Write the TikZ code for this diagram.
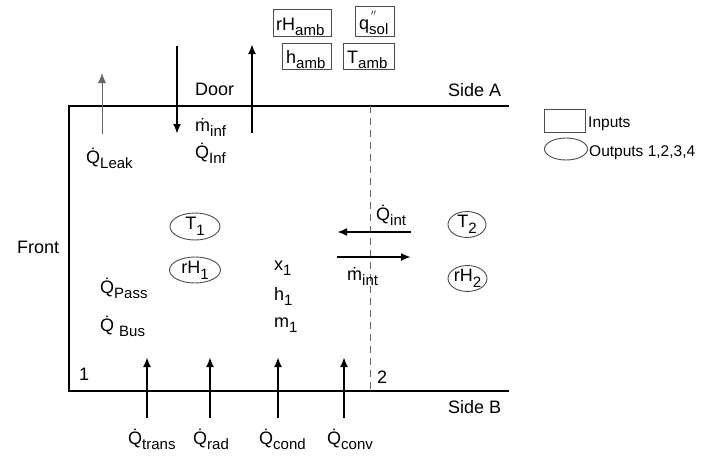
\documentclass[tikz,border=0pt]{standalone}
\usepackage{fontspec}
\setmainfont{Liberation Sans}
\usetikzlibrary{arrows.meta,shapes.geometric}
% lowered subscript used in the flow labels
\newcommand{\lsub}[1]{\raisebox{-0.33em}{\fontsize{15}{15}\selectfont #1}}
\newcommand{\Qdot}{\.Q}
\newcommand{\mdot}{\.m}
\begin{document}
\begin{tikzpicture}[x=1pt,y=-1pt,
  every node/.style={font=\fontsize{18}{20}\selectfont, inner sep=0pt},
  wall/.style={line width=2.4pt, black},
  flow/.style={line width=2pt, -{Latex[length=10pt,width=8pt]}},
  thinflow/.style={line width=1pt, black!60, -{Latex[length=10pt,width=8pt]}},
  inbox/.style={draw=black!70, line width=0.9pt, rectangle},
  outell/.style={draw=black!70, line width=0.9pt, ellipse},
  lbl/.style={anchor=base west},
  small/.style={font=\fontsize{15.5}{18}\selectfont}]
\useasboundingbox (0,0) rectangle (701,455);

% walls of the compartment
\coordinate (ta) at (509,106);
\coordinate (tl) at (69,106);
\coordinate (bl) at (69,391);
\coordinate (bb) at (509,391);
\draw[wall] (ta) -- (tl) -- (bl) -- (bb);

% boundary between zones 1 and 2
\coordinate (dtop) at (370,106);
\coordinate (dbot) at (370,392);
\draw[dashed, black!60, line width=0.9pt, dash pattern=on 7pt off 5pt] (dtop) -- (dbot);

% wall names
\node[lbl] (sideA) at (448,96) {Side A};
\node[lbl] (sideB) at (448,413) {Side B};
\node[lbl] (front) at (17,253) {Front};
\node[lbl] (door) at (195,95) {Door};
\node[lbl] (z1) at (79,380) {1};
\node[lbl] (z2) at (377,383) {2};

% ambient inputs
\node[inbox, minimum width=58pt, minimum height=27pt] (rHamb) at (302,22.5) {};
\node[lbl] (rHambt) at (276,30) {rH\lsub{amb}};
\node[inbox, minimum width=39pt, minimum height=30pt] (qsol) at (374.5,21) {};
\node[lbl] (qsolt) at (359,29) {q\rlap{\raisebox{0.5em}{\fontsize{12}{12}\selectfont\,$''$}}\lsub{sol}};
\node[inbox, minimum width=49pt, minimum height=26pt] (hamb) at (306.5,56) {};
\node[lbl] (hambt) at (286,63) {h\lsub{amb}};
\node[inbox, minimum width=51pt, minimum height=26pt] (Tamb) at (368.5,56) {};
\node[lbl] (Tambt) at (347,63) {T\lsub{amb}};

% legend
\node[inbox, minimum width=41pt, minimum height=23pt] (legbox) at (564.5,120.5) {};
\node[small, anchor=base west] (legin) at (588,127) {Inputs};
\node[outell, minimum width=43pt, minimum height=22pt] (legell) at (566,149) {};
\node[small, anchor=base west] (legout) at (589,156) {Outputs 1,2,3,4};

% leakage through side A
\coordinate (leak0) at (102,134);
\coordinate (leak1) at (102,73);
\draw[thinflow] (leak0) -- (leak1);
\node[lbl] (Qleak) at (86,163) {\Qdot\lsub{Leak}};

% infiltration through the door
\coordinate (inf0) at (177,46);
\coordinate (inf1) at (177,134);
\draw[flow] (inf0) -- (inf1);
\coordinate (exf0) at (252,133);
\coordinate (exf1) at (252,44);
\draw[flow] (exf0) -- (exf1);
\node[lbl] (minf) at (195,131) {\mdot\lsub{inf}};
\node[lbl] (Qinf) at (195,158) {\Qdot\lsub{Inf}};

% zone 1 states
\node[outell, minimum width=50pt, minimum height=27pt] (T1) at (195,226.5) {T\lsub{1}};
\node[outell, minimum width=51pt, minimum height=26pt] (rH1) at (195,270) {rH\lsub{1}};
\node[lbl] (x1) at (274,270) {x\lsub{1}};
\node[lbl] (h1) at (274,300) {h\lsub{1}};
\node[lbl] (m1) at (274,327) {m\lsub{1}};
\node[lbl] (Qpass) at (100,293) {\Qdot\lsub{Pass}};
\node[lbl] (Qbus) at (100,331) {\Qdot\ \lsub{Bus}};

% zone 2 states
\node[outell, minimum width=38pt, minimum height=25pt] (T2) at (467,224.5) {T\lsub{2}};
\node[outell, minimum width=39pt, minimum height=23pt] (rH2) at (467.5,278.5) {rH\lsub{2}};

% exchange between the zones
\coordinate (qi0) at (411,232);
\coordinate (qi1) at (337,232);
\draw[flow] (qi0) -- (qi1);
\coordinate (mi0) at (337,257);
\coordinate (mi1) at (411,257);
\draw[flow] (mi0) -- (mi1);
\node[lbl] (Qint) at (376,220) {\Qdot\lsub{int}};
\node[lbl] (mint) at (347,280) {\mdot\lsub{int}};

% heat flows through side B
\foreach \nm/\xx in {trans/147, rad/210, cond/278, conv/344}{
  \coordinate (\nm0) at (\xx,418);
  \coordinate (\nm1) at (\xx,357);
  \draw[flow] (\nm0) -- (\nm1);
}
\node[lbl] (Qtrans) at (128,444) {\Qdot\lsub{trans}};
\node[lbl] (Qrad) at (193,444) {\Qdot\lsub{rad}};
\node[lbl] (Qcond) at (259,444) {\Qdot\lsub{cond}};
\node[lbl] (Qconv) at (327,444) {\Qdot\lsub{conv}};
\end{tikzpicture}
\end{document}
